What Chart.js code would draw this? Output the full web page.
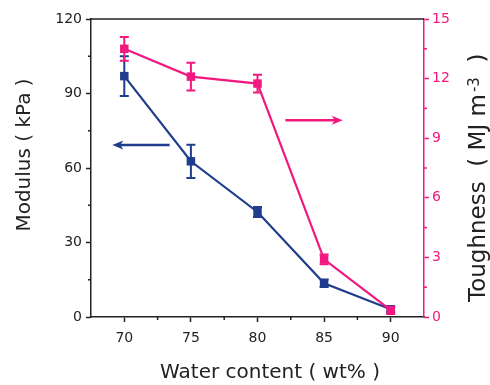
<!DOCTYPE html>
<html>
<head>
<meta charset="utf-8">
<script src="https://cdn.jsdelivr.net/npm/chart.js"></script>
<style>
  body { margin: 0; background: #fff; }
  canvas { display: block; }
</style>
</head>
<body>
<canvas id="grafico" width="490" height="385"></canvas>
<script>
const waterContent = [70, 75, 80, 85, 90];
const modulus = [97, 62.7, 42.3, 13.6, 3.1];
const modulusErr = [8, 6.7, 2, 1.5, 1];
const toughness = [13.5, 12.1, 11.75, 2.9, 0.35];
const toughnessErr = [0.6, 0.7, 0.45, 0.25, 0.2];

const xTicks = [70, 75, 80, 85, 90];
const modulusTicks = [0, 30, 60, 90, 120];
const toughnessTicks = [0, 3, 6, 9, 12, 15];

// arrows: [x start, x end, y value on its own axis]
const arrowModulus = [73.4, 69.1, 69.3];
const arrowToughness = [82.1, 86.4, 9.9];

const azul = "#1f3d8c";
const rosa = "#f2187f";
const preto = "#222222";
const fonte = "'DejaVu Sans', sans-serif";

function pontos(valores) {
  return waterContent.map(function (x, i) {
    return { x: x, y: valores[i] };
  });
}

function meios(lista) {
  let r = [];
  for (let i = 0; i < lista.length - 1; i++) {
    r.push((lista[i] + lista[i + 1]) / 2);
  }
  return r;
}

function desenharErro(chart, eixo, valores, erros, cor) {
  const ctx = chart.ctx;
  const x = chart.scales.x;
  const y = chart.scales[eixo];
  ctx.save();
  ctx.strokeStyle = cor;
  ctx.lineWidth = 2;
  for (let i = 0; i < valores.length; i++) {
    let px = x.getPixelForValue(waterContent[i]);
    let topo = y.getPixelForValue(valores[i] + erros[i]);
    let base = y.getPixelForValue(valores[i] - erros[i]);
    ctx.beginPath();
    ctx.moveTo(px, topo);
    ctx.lineTo(px, base);
    ctx.moveTo(px - 4.5, topo);
    ctx.lineTo(px + 4.5, topo);
    ctx.moveTo(px - 4.5, base);
    ctx.lineTo(px + 4.5, base);
    ctx.stroke();
  }
  ctx.restore();
}

function desenharSeta(chart, eixo, seta, cor) {
  const ctx = chart.ctx;
  const x1 = chart.scales.x.getPixelForValue(seta[0]);
  const x2 = chart.scales.x.getPixelForValue(seta[1]);
  const py = chart.scales[eixo].getPixelForValue(seta[2]);
  const dir = x2 > x1 ? 1 : -1;
  ctx.save();
  ctx.strokeStyle = cor;
  ctx.fillStyle = cor;
  ctx.lineWidth = 2.5;
  ctx.beginPath();
  ctx.moveTo(x1, py);
  ctx.lineTo(x2 - dir * 6, py);
  ctx.stroke();
  ctx.beginPath();
  ctx.moveTo(x2, py);
  ctx.lineTo(x2 - dir * 11, py - 4.5);
  ctx.lineTo(x2 - dir * 8, py);
  ctx.lineTo(x2 - dir * 11, py + 4.5);
  ctx.closePath();
  ctx.fill();
  ctx.restore();
}

function desenharTitulos(chart) {
  const ctx = chart.ctx;
  const area = chart.chartArea;
  ctx.save();
  ctx.fillStyle = preto;
  ctx.textBaseline = "alphabetic";

  // x title
  ctx.font = "20px " + fonte;
  ctx.textAlign = "center";
  ctx.fillText("Water content ( wt% )", area.left + 179, chart.height - 7);

  // left title
  ctx.save();
  ctx.translate(30, area.top + 136);
  ctx.rotate(-Math.PI / 2);
  ctx.fillText("Modulus ( kPa )", 0, 0);
  ctx.restore();

  // right title, reads bottom to top with superscript
  ctx.translate(chart.width - 5, area.bottom - 15);
  ctx.rotate(-Math.PI / 2);
  ctx.textAlign = "left";
  let pos = 0;
  ctx.font = "23px " + fonte;
  ctx.fillText("Toughness  ( MJ m", pos, 0);
  pos += ctx.measureText("Toughness  ( MJ m").width + 2;
  ctx.font = "15px " + fonte;
  ctx.fillText("-3", pos, -6);
  pos += ctx.measureText("-3").width;
  ctx.font = "23px " + fonte;
  ctx.fillText("  )", pos, 0);
  ctx.restore();
}

const extras = {
  id: "extras",
  beforeDatasetsDraw(chart) {
    desenharErro(chart, "y", modulus, modulusErr, azul);
    desenharErro(chart, "y1", toughness, toughnessErr, rosa);
  },
  afterDraw(chart) {
    const ctx = chart.ctx;
    const area = chart.chartArea;

    // top frame line
    ctx.save();
    ctx.strokeStyle = preto;
    ctx.lineWidth = 1.5;
    ctx.beginPath();
    ctx.moveTo(area.left, area.top);
    ctx.lineTo(area.right, area.top);
    ctx.stroke();

    // minor ticks
    meios(modulusTicks).forEach(function (v) {
      let py = chart.scales.y.getPixelForValue(v);
      ctx.beginPath();
      ctx.moveTo(area.left - 3, py);
      ctx.lineTo(area.left, py);
      ctx.stroke();
    });
    meios(xTicks).forEach(function (v) {
      let px = chart.scales.x.getPixelForValue(v);
      ctx.beginPath();
      ctx.moveTo(px, area.bottom);
      ctx.lineTo(px, area.bottom + 3);
      ctx.stroke();
    });
    ctx.strokeStyle = rosa;
    meios(toughnessTicks).forEach(function (v) {
      let py = chart.scales.y1.getPixelForValue(v);
      ctx.beginPath();
      ctx.moveTo(area.right, py);
      ctx.lineTo(area.right + 3, py);
      ctx.stroke();
    });
    ctx.restore();

    desenharSeta(chart, "y", arrowModulus, azul);
    desenharSeta(chart, "y1", arrowToughness, rosa);
    desenharTitulos(chart);
  },
};

new Chart(document.getElementById("grafico"), {
  type: "line",

  data: {
    datasets: [
      {
        label: "Toughness",
        data: pontos(toughness),
        yAxisID: "y1",
        borderColor: rosa,
        backgroundColor: rosa,
        borderWidth: 2.2,
        pointStyle: "rect",
        pointRadius: 6,
        pointBorderWidth: 0,
        order: 0,
      },
      {
        label: "Modulus",
        data: pontos(modulus),
        yAxisID: "y",
        borderColor: azul,
        backgroundColor: azul,
        borderWidth: 2.2,
        pointStyle: "rect",
        pointRadius: 6,
        pointBorderWidth: 0,
        order: 1,
      },
    ],
  },

  plugins: [extras],

  options: {
    responsive: false,
    devicePixelRatio: 1,
    animation: false,

    layout: {
      padding: { top: 19, left: 0, right: 0, bottom: 0 },
    },

    plugins: {
      legend: { display: false },
      tooltip: { enabled: false },
    },

    scales: {
      x: {
        type: "linear",
        min: 67.5,
        max: 92.5,
        afterBuildTicks: function (scale) {
          scale.ticks = xTicks.map(function (v) { return { value: v }; });
        },
        afterFit: function (scale) {
          scale.height = 68;
        },
        ticks: {
          color: preto,
          padding: 8,
          font: { family: fonte, size: 14 },
        },
        grid: {
          drawOnChartArea: false,
          tickLength: 5,
          tickColor: preto,
          tickWidth: 1.5,
        },
        border: { color: preto, width: 1.5 },
      },

      y: {
        position: "left",
        min: 0,
        max: 120,
        afterBuildTicks: function (scale) {
          scale.ticks = modulusTicks.map(function (v) { return { value: v }; });
        },
        afterFit: function (scale) {
          scale.width = 91;
        },
        ticks: {
          color: preto,
          padding: 4,
          font: { family: fonte, size: 14 },
        },
        grid: {
          drawOnChartArea: false,
          tickLength: 5,
          tickColor: preto,
          tickWidth: 1.5,
        },
        border: { color: preto, width: 1.5 },
      },

      y1: {
        position: "right",
        min: 0,
        max: 15,
        afterBuildTicks: function (scale) {
          scale.ticks = toughnessTicks.map(function (v) { return { value: v }; });
        },
        afterFit: function (scale) {
          scale.width = 66;
        },
        ticks: {
          color: rosa,
          padding: 3,
          font: { family: fonte, size: 14 },
        },
        grid: {
          drawOnChartArea: false,
          tickLength: 5,
          tickColor: rosa,
          tickWidth: 1.5,
        },
        border: { color: rosa, width: 1.5 },
      },
    },
  },
});
</script>
</body>
</html>
